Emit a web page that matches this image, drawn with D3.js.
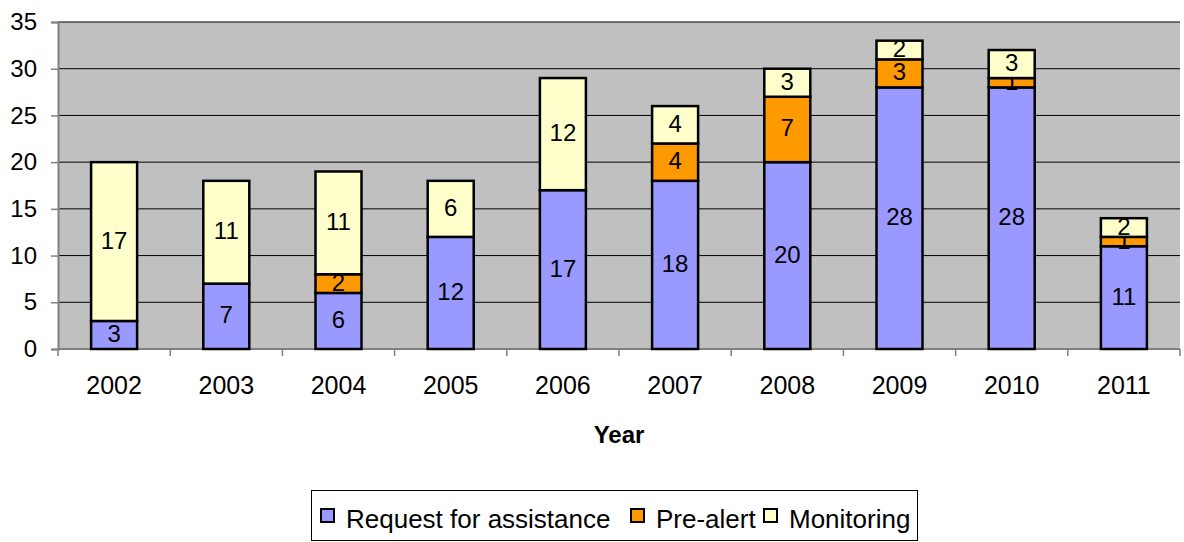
<!DOCTYPE html>
<html>
<head>
<meta charset="utf-8">
<script src="https://cdn.jsdelivr.net/npm/d3@7"></script>
<style>
  body { margin: 0; background: #fff; }
  text { font-family: "Liberation Sans", Arial, sans-serif; }
</style>
</head>
<body>
<svg width="1184" height="542"></svg>
<script>
const years = ["2002","2003","2004","2005","2006","2007","2008","2009","2010","2011"];
const request = [3, 7, 6, 12, 17, 18, 20, 28, 28, 11];
const preAlert = [0, 0, 2, 0, 0, 4, 7, 3, 1, 1];
const monitoring = [17, 11, 11, 6, 12, 4, 3, 2, 3, 2];
const seriesNames = ["Request for assistance", "Pre-alert", "Monitoring"];
const colors = ["#9999FF", "#FF9900", "#FFFFCC"];
const yTicks = [0, 5, 10, 15, 20, 25, 30, 35];

const rows = years.map((y, i) => ({year: y, s0: request[i], s1: preAlert[i], s2: monitoring[i]}));
const stack = d3.stack().keys(["s0", "s1", "s2"])(rows);

const svg = d3.select("svg");
const plotL = 58, plotR = 1180, plotT = 22, plotB = 349;

const x = d3.scaleBand().domain(years).range([plotL, plotR]).paddingInner(0.59).paddingOuter(0.295);
const xCat = d3.scaleBand().domain(years).range([plotL, plotR]);
const y = d3.scaleLinear().domain([0, 35]).range([plotB, plotT]);

// plot background
svg.append("rect")
  .attr("x", plotL).attr("y", plotT)
  .attr("width", plotR - plotL).attr("height", plotB - plotT)
  .attr("fill", "#C0C0C0");

// gridlines
svg.append("g").selectAll("line")
  .data(yTicks.filter(d => d > 0))
  .join("line")
  .attr("x1", plotL).attr("x2", plotR)
  .attr("y1", d => y(d)).attr("y2", d => y(d))
  .attr("stroke", "#000").attr("stroke-width", 1);

// y axis
const yAxis = svg.append("g")
  .attr("transform", `translate(${plotL},0)`)
  .call(d3.axisLeft(y).tickValues(yTicks).tickSize(7).tickPadding(14));
yAxis.select(".domain").attr("stroke", "#808080").attr("stroke-width", 2);
yAxis.selectAll(".tick line").attr("stroke", "#808080").attr("stroke-width", 1.5);
yAxis.selectAll("text").attr("font-size", 24).attr("fill", "#000")
  .attr("font-family", "Liberation Sans, Arial, sans-serif");

// x axis (ticks at category boundaries)
svg.append("line")
  .attr("x1", plotL).attr("x2", plotR)
  .attr("y1", plotB).attr("y2", plotB)
  .attr("stroke", "#808080").attr("stroke-width", 2);
svg.append("g").selectAll("line")
  .data(years.concat(["end"]))
  .join("line")
  .attr("x1", (d, i) => i < years.length ? xCat(d) : plotR)
  .attr("x2", (d, i) => i < years.length ? xCat(d) : plotR)
  .attr("y1", plotB).attr("y2", plotB + 7)
  .attr("stroke", "#808080").attr("stroke-width", 1.5);
svg.append("g").selectAll("text")
  .data(years)
  .join("text")
  .attr("x", d => xCat(d) + xCat.bandwidth() / 2)
  .attr("y", 394)
  .attr("text-anchor", "middle")
  .attr("font-size", 25)
  .text(d => d);

// bars
const layers = svg.append("g").selectAll("g")
  .data(stack)
  .join("g")
  .attr("fill", (d, i) => colors[i]);
layers.selectAll("rect")
  .data(d => d.filter(p => p[1] - p[0] > 0))
  .join("rect")
  .attr("x", d => x(d.data.year))
  .attr("width", x.bandwidth())
  .attr("y", d => y(d[1]))
  .attr("height", d => y(d[0]) - y(d[1]))
  .attr("stroke", "#000").attr("stroke-width", 2.5);

// labels
layers.selectAll("text")
  .data(d => d.filter(p => p[1] - p[0] > 0))
  .join("text")
  .attr("x", d => x(d.data.year) + x.bandwidth() / 2)
  .attr("y", d => (y(d[0]) + y(d[1])) / 2 + 7)
  .attr("text-anchor", "middle")
  .attr("font-size", 24)
  .attr("fill", "#000")
  .text(d => d[1] - d[0]);

// x title
svg.append("text")
  .attr("x", 619).attr("y", 443)
  .attr("text-anchor", "middle")
  .attr("font-size", 24).attr("font-weight", "bold")
  .text("Year");

// legend
const lg = svg.append("g");
lg.append("rect")
  .attr("x", 311.5).attr("y", 490.5).attr("width", 606).attr("height", 50)
  .attr("fill", "#fff").attr("stroke", "#000").attr("stroke-width", 1);
const legendX = [321, 631, 764];
const item = lg.selectAll("g.item")
  .data(seriesNames)
  .join("g")
  .attr("class", "item")
  .attr("transform", (d, i) => `translate(${legendX[i]},509)`);
item.append("rect")
  .attr("width", 13).attr("height", 13)
  .attr("fill", (d, i) => colors[i])
  .attr("stroke", "#000").attr("stroke-width", 2);
item.append("text")
  .attr("x", 25).attr("y", 19)
  .attr("font-size", 26)
  .text(d => d);
</script>
</body>
</html>
